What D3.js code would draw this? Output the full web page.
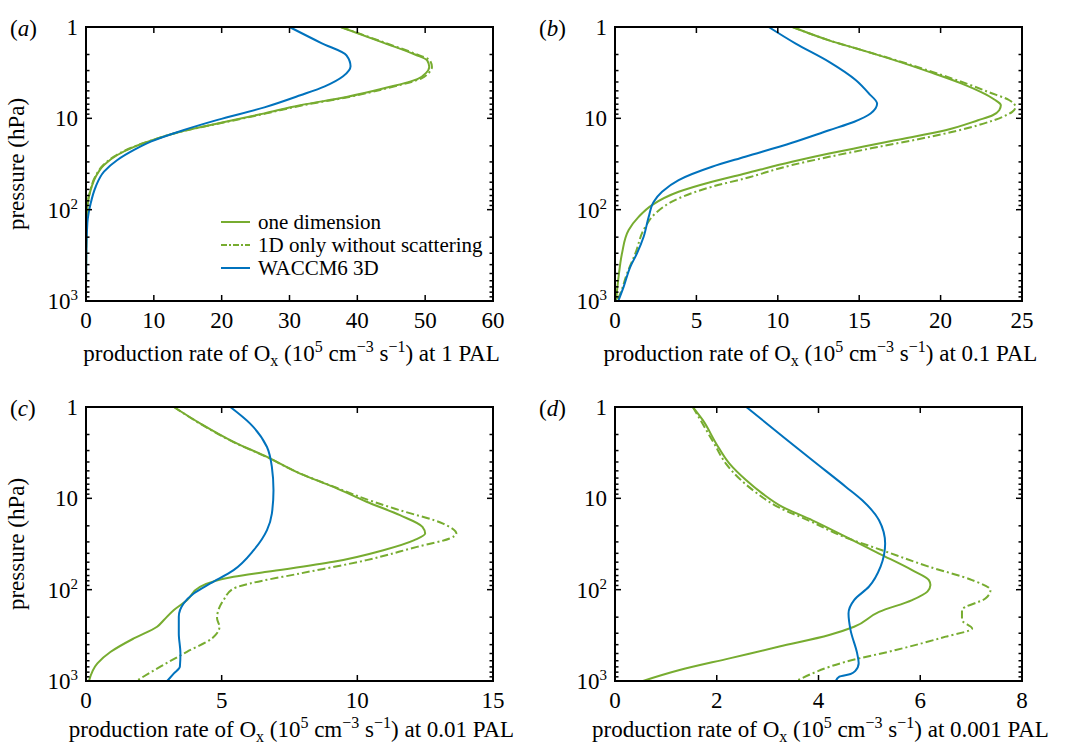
<!DOCTYPE html>
<html>
<head>
<meta charset="utf-8">
<script src="https://cdn.jsdelivr.net/npm/d3@7"></script>
<style>
  html, body { margin: 0; padding: 0; background: #fff; }
  svg { display: block; }
</style>
</head>
<body>
<svg id="chart" width="1070" height="748" font-family="'Liberation Serif', 'DejaVu Serif', serif"></svg>
<script>
// Ox production profiles: [pressure (hPa), production rate (1e5 cm^-3 s^-1)]

// (a) 1 PAL
const pal1OneDim = [[1,37.5],[1.5,44],[2.0,48.5],[2.32,50.3],[2.74,50.6],[3.2,50.1],[3.67,49.0],[4.72,43.8],[5.83,38.4],[7.19,31.6],[8.82,26.3],[11.4,19.4],[13.7,14.45],[17.6,9.54],[20.5,7.08],[25.2,4.62],[32.5,2.65],[43.6,1.43],[61,0.69],[93,0.2],[250,0.03],[1000,0]];
const pal1NoScatter = [[1,37.6],[1.5,44.2],[2.0,48.8],[2.32,50.7],[2.74,51.0],[3.2,50.5],[3.67,49.4],[4.72,44.2],[5.83,38.8],[7.19,32.0],[8.82,26.6],[11.4,19.6],[13.7,14.5],[17.6,9.5],[20.5,7.0],[25.2,4.5],[32.5,2.55],[43.6,1.35],[61,0.65],[93,0.2],[250,0.03],[1000,0]];
const pal1Waccm = [[1,30.0],[1.5,34.7],[2.04,38.4],[2.69,39.0],[3.46,37.9],[4.46,35.2],[5.59,31.6],[7.58,26.3],[10.4,19.4],[13.4,14.45],[18.0,9.54],[22.2,7.08],[28.6,4.62],[38.4,2.65],[56.1,1.43],[85.3,0.69],[141,0.2],[350,0.04],[1000,0]];

// (b) 0.1 PAL
const pal01OneDim = [[1,10.9],[1.4,13.15],[1.8,15.2],[2.32,17.2],[3.1,19.3],[4.17,21.3],[6.23,23.3],[7.19,23.7],[8.15,23.6],[9.25,23.2],[10.5,22.3],[13.5,20.3],[17.4,17.2],[20.5,15.2],[24.3,13.15],[29.9,10.87],[40.1,8.0],[49.4,5.96],[63.7,3.91],[89,2.27],[120,1.45],[167,0.84],[301,0.43],[543,0.22],[1000,0.06]];
const pal01NoScatter = [[1,10.9],[1.4,13.15],[1.8,15.2],[2.32,17.3],[3.1,19.5],[4.17,21.6],[5.2,23.0],[6.3,24.2],[7.5,24.6],[8.5,24.4],[9.3,24.0],[11.9,22.3],[16,19.3],[20.5,16.2],[26.4,13.15],[32.5,10.87],[45.4,8.0],[56.1,5.96],[75.2,3.91],[110,2.48],[154,1.86],[301,1.25],[499,0.74],[826,0.33],[1000,0.12]];
const pal01Waccm = [[1,9.44],[1.52,11.1],[2.41,13.15],[3.83,14.8],[5.36,15.6],[6.9,16.1],[8.87,15.7],[10.9,14.7],[13.5,13.15],[18.5,10.87],[26.3,8.0],[33.9,5.96],[47.4,3.91],[63.7,2.89],[81.9,2.38],[120,2.07],[198,1.76],[301,1.35],[422,0.94],[699,0.53],[1000,0.2]];

// (c) 0.01 PAL
const pal001OneDim = [[1,3.24],[1.52,4.22],[2.41,5.44],[3.52,6.67],[5.36,7.89],[7.5,9.12],[10.9,10.34],[15.3,11.57],[20.5,12.4],[24.3,12.5],[28.7,12.1],[37,10.96],[49.6,9.12],[63.8,6.67],[72.3,5.44],[93,4.2],[130,3.73],[167,3.24],[215,2.87],[255,2.62],[342,1.76],[479,0.91],[641,0.42],[1000,0.11]];
const pal001NoScatter = [[1,3.24],[1.52,4.2],[2.41,5.42],[3.52,6.65],[5.36,7.9],[7.5,9.15],[10.9,10.6],[13.5,11.57],[18.9,13.16],[24.3,13.65],[27.5,13.4],[34,12.2],[47.5,10.34],[66.5,7.89],[85.5,6.05],[97,5.44],[130,5.07],[167,4.88],[206,4.83],[255,4.92],[342,4.64],[479,3.72],[697,2.74],[1000,1.85]];
const pal001Waccm = [[1,5.32],[1.52,6.05],[2.74,6.67],[4.53,6.85],[8.15,6.91],[14.7,6.85],[22.3,6.67],[37,6.18],[61.1,5.44],[85.5,4.58],[110,3.97],[141,3.6],[198,3.42],[301,3.42],[499,3.48],[697,3.46],[826,3.24],[1000,2.99]];

// (d) 0.001 PAL
const pal0001OneDim = [[1,1.53],[1.4,1.73],[2.52,1.99],[4.17,2.25],[6.34,2.58],[8.87,2.9],[12.4,3.29],[17.4,3.88],[26.4,4.54],[40.2,5.19],[61.1,5.84],[78.6,6.17],[89,6.2],[105,6.14],[130,5.84],[175,5.19],[255,4.7],[314,4.21],[420,3.23],[565,2.25],[759,1.27],[1000,0.55]];
const pal0001NoScatter = [[1,1.53],[2.52,1.95],[4.17,2.18],[6.34,2.48],[8.87,2.8],[12.4,3.2],[17.4,3.8],[26.4,4.5],[37,5.25],[56,6.17],[78.6,7.02],[101,7.38],[125,7.28],[167,6.82],[215,6.82],[266,7.02],[327,6.5],[458,5.52],[615,4.54],[1000,3.56]];
const pal0001Waccm = [[1,2.58],[1.96,3.23],[3.83,3.88],[7.5,4.54],[10.5,4.86],[17.4,5.19],[31.3,5.31],[56,5.22],[93,4.99],[130,4.7],[182,4.59],[277,4.63],[499,4.76],[641,4.79],[780,4.72],[839,4.63],[897,4.41],[1000,4.34]];

// axis ticks and labels
const xTicksA = [0,10,20,30,40,50,60];
const xTicksB = [0,5,10,15,20,25];
const xTicksC = [0,5,10,15];
const xTicksD = [0,2,4,6,8];
const pressureTicks = [1,10,100,1000];
const panelLetters = ["a","b","c","d"];
const palLabels = ["1","0.1","0.01","0.001"];
const seriesNames = ["one dimension","1D only without scattering","WACCM6 3D"];

const GREEN = "#77ac30", BLUE = "#0072bd";
const FONT = 23;

const panels = [
  {letter: panelLetters[0], pal: palLabels[0], xTicks: xTicksA, left: 86, top: 27, titleY: 60, yTitle: true, legend: true,
   series: [pal1OneDim, pal1NoScatter, pal1Waccm]},
  {letter: panelLetters[1], pal: palLabels[1], xTicks: xTicksB, left: 615, top: 27, titleY: 60,
   series: [pal01OneDim, pal01NoScatter, pal01Waccm]},
  {letter: panelLetters[2], pal: palLabels[2], xTicks: xTicksC, left: 86, top: 407, titleY: 56, yTitle: true,
   series: [pal001OneDim, pal001NoScatter, pal001Waccm]},
  {letter: panelLetters[3], pal: palLabels[3], xTicks: xTicksD, left: 615, top: 407, titleY: 56,
   series: [pal0001OneDim, pal0001NoScatter, pal0001Waccm]}
];
const W = 407, H = 274;
const styles = [
  {stroke: GREEN, dash: null},
  {stroke: GREEN, dash: "8,3,2,3"},
  {stroke: BLUE, dash: null}
];

const svg = d3.select("#chart");

panels.forEach(p => {
  const g = svg.append("g").attr("transform", `translate(${p.left},${p.top})`);
  const x = d3.scaleLinear().domain([0, d3.max(p.xTicks)]).range([0, W]);
  const y = d3.scaleLog().domain([1, 1000]).range([0, H]);

  // curves
  const line = d3.line()
    .x(d => x(d[1]))
    .y(d => y(d[0]))
    .curve(d3.curveMonotoneY);
  p.series.forEach((s, i) => {
    g.append("path")
      .datum(s)
      .attr("d", line)
      .attr("fill", "none")
      .attr("stroke", styles[i].stroke)
      .attr("stroke-width", 2)
      .attr("stroke-dasharray", styles[i].dash);
  });

  // inward ticks on all four sides
  const minor = [];
  for (let e = 0; e < 3; e++) for (let m = 2; m <= 9; m++) minor.push(m * Math.pow(10, e));
  const tk = g.append("g").attr("stroke", "#000").attr("stroke-width", 1.5);
  minor.forEach(v => {
    tk.append("line").attr("x1", 0).attr("x2", 3.5).attr("y1", y(v)).attr("y2", y(v));
    tk.append("line").attr("x1", W).attr("x2", W - 3.5).attr("y1", y(v)).attr("y2", y(v));
  });
  pressureTicks.forEach(v => {
    tk.append("line").attr("x1", 0).attr("x2", 6).attr("y1", y(v)).attr("y2", y(v));
    tk.append("line").attr("x1", W).attr("x2", W - 6).attr("y1", y(v)).attr("y2", y(v));
  });
  p.xTicks.forEach(v => {
    tk.append("line").attr("x1", x(v)).attr("x2", x(v)).attr("y1", H).attr("y2", H - 6);
    tk.append("line").attr("x1", x(v)).attr("x2", x(v)).attr("y1", 0).attr("y2", 6);
  });

  // frame
  g.append("rect").attr("x", 0).attr("y", 0).attr("width", W).attr("height", H)
    .attr("fill", "none").attr("stroke", "#000").attr("stroke-width", 2);

  // x tick labels
  g.selectAll(".xt").data(p.xTicks).join("text")
    .attr("x", d => x(d)).attr("y", H + 27)
    .attr("text-anchor", "middle").attr("font-size", FONT)
    .text(d => d);

  // y tick labels: 1, 10, 10², 10³
  pressureTicks.forEach(v => {
    const e = Math.round(Math.log10(v));
    const t = g.append("text").attr("x", -8).attr("y", y(v) + 8)
      .attr("text-anchor", "end").attr("font-size", FONT);
    if (e <= 1) {
      t.text(String(v));
    } else {
      t.append("tspan").text("10");
      t.append("tspan").attr("dy", -9).attr("font-size", 15).text(String(e));
    }
  });

  // x axis title
  const xt = g.append("text").attr("x", W / 2 + 2).attr("y", H + p.titleY)
    .attr("text-anchor", "middle").attr("font-size", FONT);
  xt.append("tspan").text("production rate of O");
  xt.append("tspan").attr("dy", 5).attr("font-size", 16).text("x");
  xt.append("tspan").attr("dy", -5).text(" (10");
  xt.append("tspan").attr("dy", -9).attr("font-size", 16).text("5");
  xt.append("tspan").attr("dy", 9).text(" cm");
  xt.append("tspan").attr("dy", -9).attr("font-size", 16).text("\u22123");
  xt.append("tspan").attr("dy", 9).text(" s");
  xt.append("tspan").attr("dy", -9).attr("font-size", 16).text("\u22121");
  xt.append("tspan").attr("dy", 9).text(`) at ${p.pal} PAL`);

  // y axis title
  if (p.yTitle) {
    g.append("text")
      .attr("transform", `translate(-62,${H / 2}) rotate(-90)`)
      .attr("text-anchor", "middle").attr("font-size", FONT)
      .text("pressure (hPa)");
  }

  // panel letter
  const lt = g.append("text").attr("x", -76).attr("y", 9)
    .attr("font-size", FONT);
  lt.append("tspan").text("(");
  lt.append("tspan").attr("font-style", "italic").text(p.letter);
  lt.append("tspan").text(")");

  // legend
  if (p.legend) {
    const lg = g.append("g").attr("transform", `translate(135,195)`);
    seriesNames.forEach((name, i) => {
      const row = lg.append("g").attr("transform", `translate(0,${i * 23})`);
      row.append("line").attr("x1", 0).attr("x2", 29).attr("y1", 0).attr("y2", 0)
        .attr("stroke", styles[i].stroke).attr("stroke-width", 2)
        .attr("stroke-dasharray", styles[i].dash ? "6,2,2,2" : null);
      row.append("text").attr("x", 37).attr("y", 7).attr("font-size", 21).text(name);
    });
  }
});
</script>
</body>
</html>
